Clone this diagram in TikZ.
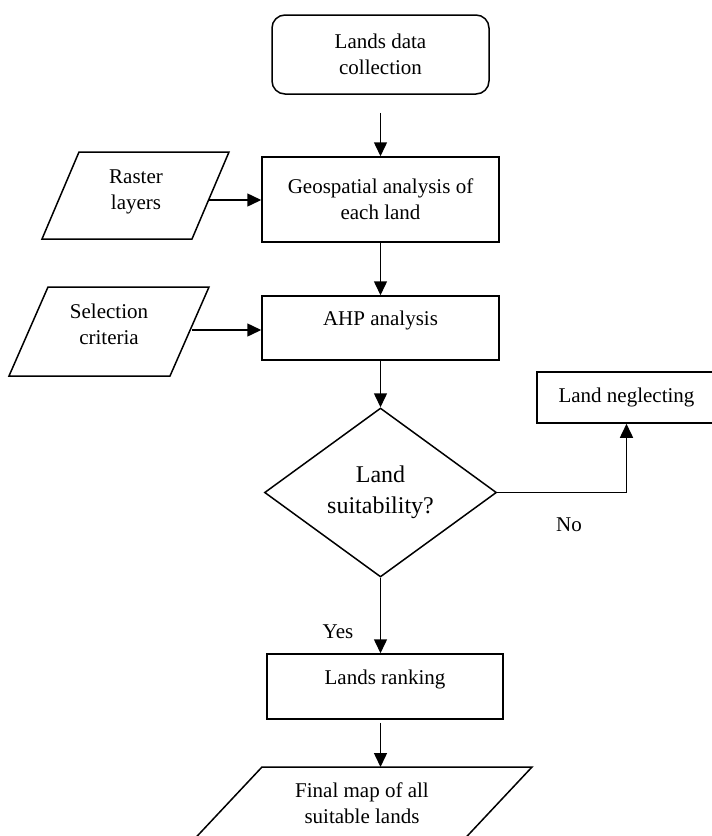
\documentclass[tikz,border=0pt]{standalone}
\usepackage{fontspec}
\setmainfont{Liberation Serif}
\usetikzlibrary{arrows.meta,shapes.geometric}
\begin{document}
\begin{tikzpicture}[x=1pt,y=-1pt, line width=1.5pt,
  box/.style={draw, rectangle, inner sep=0pt, font=\fontsize{21}{26}\selectfont, align=center},
  txt/.style={inner sep=0pt, font=\fontsize{21}{26}\selectfont, align=center},
  arr/.style={-{Triangle[length=14pt,width=13pt]}}]
\useasboundingbox (0,0) rectangle (712,836);
\fill[white] (0,0) rectangle (712,836);
\clip (0,0) rectangle (712,836);

% process boxes
\node[box, rounded corners=13pt, minimum width=217pt, minimum height=79pt] (ldc) at (380.5,54.5) {Lands data\\collection};
\node[box, minimum width=237pt, minimum height=85pt] (geo) at (380.5,199.5) {Geospatial analysis of\\each land};
\node[box, minimum width=237pt, minimum height=64pt, label={[txt,yshift=8pt]center:AHP analysis}] (ahp) at (380.5,328) {};
\node[draw, diamond, aspect=1.37, inner sep=0pt, minimum width=232pt, minimum height=169pt, font=\fontsize{24}{31}\selectfont, align=center] (dec) at (380.5,492.5) {Land\\suitability?};
\node[box, minimum width=179pt, minimum height=51pt] (neg) at (626.5,397.5) {Land neglecting};
\node[box, minimum width=236pt, minimum height=65pt, label={[txt,yshift=7pt]center:Lands ranking}] (rank) at (385,686.5) {};

% data (parallelogram) shapes
\draw (79,152) -- (229,152) -- (192,239) -- (42,239) -- cycle;
\node[txt] (raster) at (136,191.5) {Raster\\layers};
\coordinate (rasterR) at (209,200);

\draw (48,287) -- (209,287) -- (170,376) -- (9,376) -- cycle;
\node[txt] (sel) at (109,324) {Selection\\criteria};
\coordinate (selR) at (192,330);

\draw (262,767) -- (532,767) -- (426,880) -- (156,880) -- cycle;
\node[txt] (final) at (362,803) {Final map of all\\suitable lands};
\coordinate (finTop) at (380.5,767);

% connectors
\draw[arr, shorten <=18pt] (ldc.south) -- (geo.north);
\draw[arr] (rasterR) -- (rasterR -| geo.west);
\draw[arr] (geo.south) -- (ahp.north);
\draw[arr] (selR) -- (selR -| ahp.west);
\draw[arr] (ahp.south) -- (dec.north);
\draw[arr] (dec.east) -| (neg.south);
\draw[arr] (dec.south) -- (dec.south |- rank.north);
\draw[arr, shorten <=3pt] (rank.south -| dec.south) -- (finTop);

% labels
\node[txt] (no) at (569,525) {No};
\node[txt] (yes) at (338,632) {Yes};
\end{tikzpicture}
\end{document}
